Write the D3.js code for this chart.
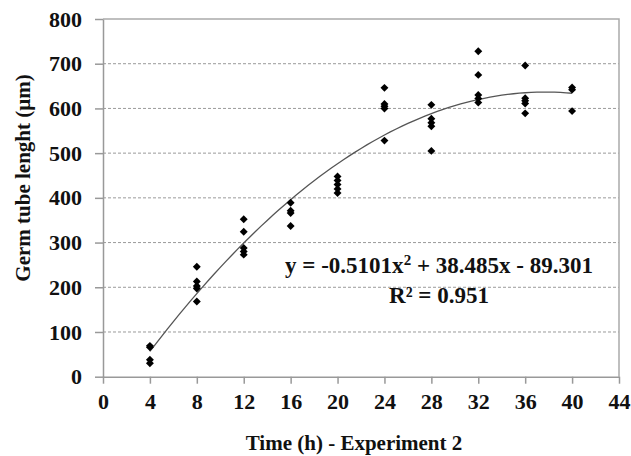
<!DOCTYPE html>
<html>
<head>
<meta charset="utf-8">
<script src="https://cdn.jsdelivr.net/npm/d3@7"></script>
<style>
  body { margin: 0; background: white; }
</style>
</head>
<body>
<div id="chart"></div>
<script>
// DATA
const times = [4, 8, 12, 16, 20, 24, 28, 32, 36, 40];
const lengths = [
    [69, 66, 38, 30],
    [246, 213, 203, 197, 168],
    [352, 324, 288, 280, 273],
    [389, 371, 366, 337],
    [448, 439, 430, 420, 411],
    [646, 610, 605, 600, 528],
    [608, 577, 568, 560, 505],
    [728, 675, 630, 622, 613],
    [696, 623, 617, 611, 589],
    [647, 642, 594]
];
const xTicks = [0, 4, 8, 12, 16, 20, 24, 28, 32, 36, 40, 44];
const yTicks = [0, 100, 200, 300, 400, 500, 600, 700, 800];
// trendline coefficients: a*x^2 + b*x + c
const coef = [-0.5101, 38.485, -89.301];
const rSquared = 0.951;

const FONT = "'Liberation Serif', 'Times New Roman', Times, serif";

// FLATTEN POINTS
const points = [];
times.forEach((t, i) => lengths[i].forEach(v => points.push({ t: t, v: v })));

// DIMENSIONS
const width = 631, height = 456;
const margin = { left: 103, right: 12, top: 19, bottom: 79.3 };
const innerW = width - margin.left - margin.right;
const innerH = height - margin.top - margin.bottom;

const svg = d3.select('#chart')
    .append('svg')
    .attr('width', width)
    .attr('height', height);

const g = svg.append('g')
    .attr('transform', `translate(${margin.left},${margin.top})`);

// SCALES
const xScale = d3.scaleLinear().domain([0, 44]).range([0, innerW]);
const yScale = d3.scaleLinear().domain([0, 800]).range([innerH, 0]);

// GRIDLINES
g.selectAll('.grid')
    .data(yTicks.filter(d => d > 0 && d < 800))
    .enter()
    .append('line')
    .attr('x1', 0)
    .attr('x2', innerW)
    .attr('y1', d => yScale(d))
    .attr('y2', d => yScale(d))
    .attr('stroke', '#9a9a9a')
    .attr('stroke-width', 1)
    .attr('stroke-dasharray', '3,2');

// FRAME (top and right)
g.append('path')
    .attr('d', `M0,${yScale(800)}H${innerW}V${innerH}`)
    .attr('fill', 'none')
    .attr('stroke', '#aaa')
    .attr('stroke-width', 1.5);

// X AXIS
const xAxis = g.append('g')
    .attr('transform', `translate(0,${innerH})`)
    .call(d3.axisBottom(xScale).tickValues(xTicks).tickSize(7).tickPadding(10).tickSizeOuter(0));
xAxis.attr('font-family', null).attr('font-size', null);
xAxis.selectAll('line, path').attr('stroke', '#999').attr('stroke-width', 1.5);
xAxis.selectAll('text')
    .style('font-family', FONT).style('font-weight', 'bold')
    .style('font-size', '22px').attr('fill', '#111');

// Y AXIS
const yAxis = g.append('g')
    .call(d3.axisLeft(yScale).tickValues(yTicks).tickSize(8).tickPadding(13).tickSizeOuter(0));
yAxis.attr('font-family', null).attr('font-size', null);
yAxis.selectAll('line, path').attr('stroke', '#999').attr('stroke-width', 1.5);
yAxis.selectAll('text')
    .style('font-family', FONT).style('font-weight', 'bold')
    .style('font-size', '22px').attr('fill', '#111');

// TRENDLINE
const fit = x => coef[0] * x * x + coef[1] * x + coef[2];
const curveX = d3.range(4, 40.01, 0.5);
g.append('path')
    .datum(curveX)
    .attr('d', d3.line().x(d => xScale(d)).y(d => yScale(fit(d))))
    .attr('fill', 'none')
    .attr('stroke', '#555')
    .attr('stroke-width', 1.3);

// POINTS
g.selectAll('.pt')
    .data(points)
    .enter()
    .append('path')
    .attr('d', d3.symbol().type(d3.symbolDiamond2).size(40))
    .attr('transform', d => `translate(${xScale(d.t)},${yScale(d.v)})`)
    .attr('fill', '#000');

// EQUATION
const eq = g.append('text')
    .attr('x', 336)
    .attr('y', 254)
    .attr('text-anchor', 'middle')
    .style('font-family', FONT).style('font-weight', 'bold')
    .style('font-size', '23px').attr('fill', '#111');
eq.append('tspan').text(`y = ${coef[0]}x`);
eq.append('tspan').text('2').attr('dy', -8).style('font-size', '15px');
eq.append('tspan').text(` + ${coef[1]}x - ${Math.abs(coef[2])}`).attr('dy', 8);

g.append('text')
    .attr('x', 336)
    .attr('y', 284)
    .attr('text-anchor', 'middle')
    .style('font-family', FONT).style('font-weight', 'bold')
    .style('font-size', '23px').attr('fill', '#111')
    .text(`R² = ${rSquared}`);

// AXIS TITLES
svg.append('text')
    .attr('x', margin.left + innerW / 2 - 7)
    .attr('y', 450)
    .attr('text-anchor', 'middle')
    .style('font-family', FONT).style('font-weight', 'bold')
    .style('font-size', '21px').attr('fill', '#111')
    .text('Time (h) - Experiment 2');

svg.append('text')
    .attr('transform', `translate(30,178)rotate(-90)`)
    .attr('text-anchor', 'middle')
    .style('font-family', FONT).style('font-weight', 'bold')
    .style('font-size', '21px').attr('fill', '#111')
    .text('Germ tube lenght (μm)');
</script>
</body>
</html>
